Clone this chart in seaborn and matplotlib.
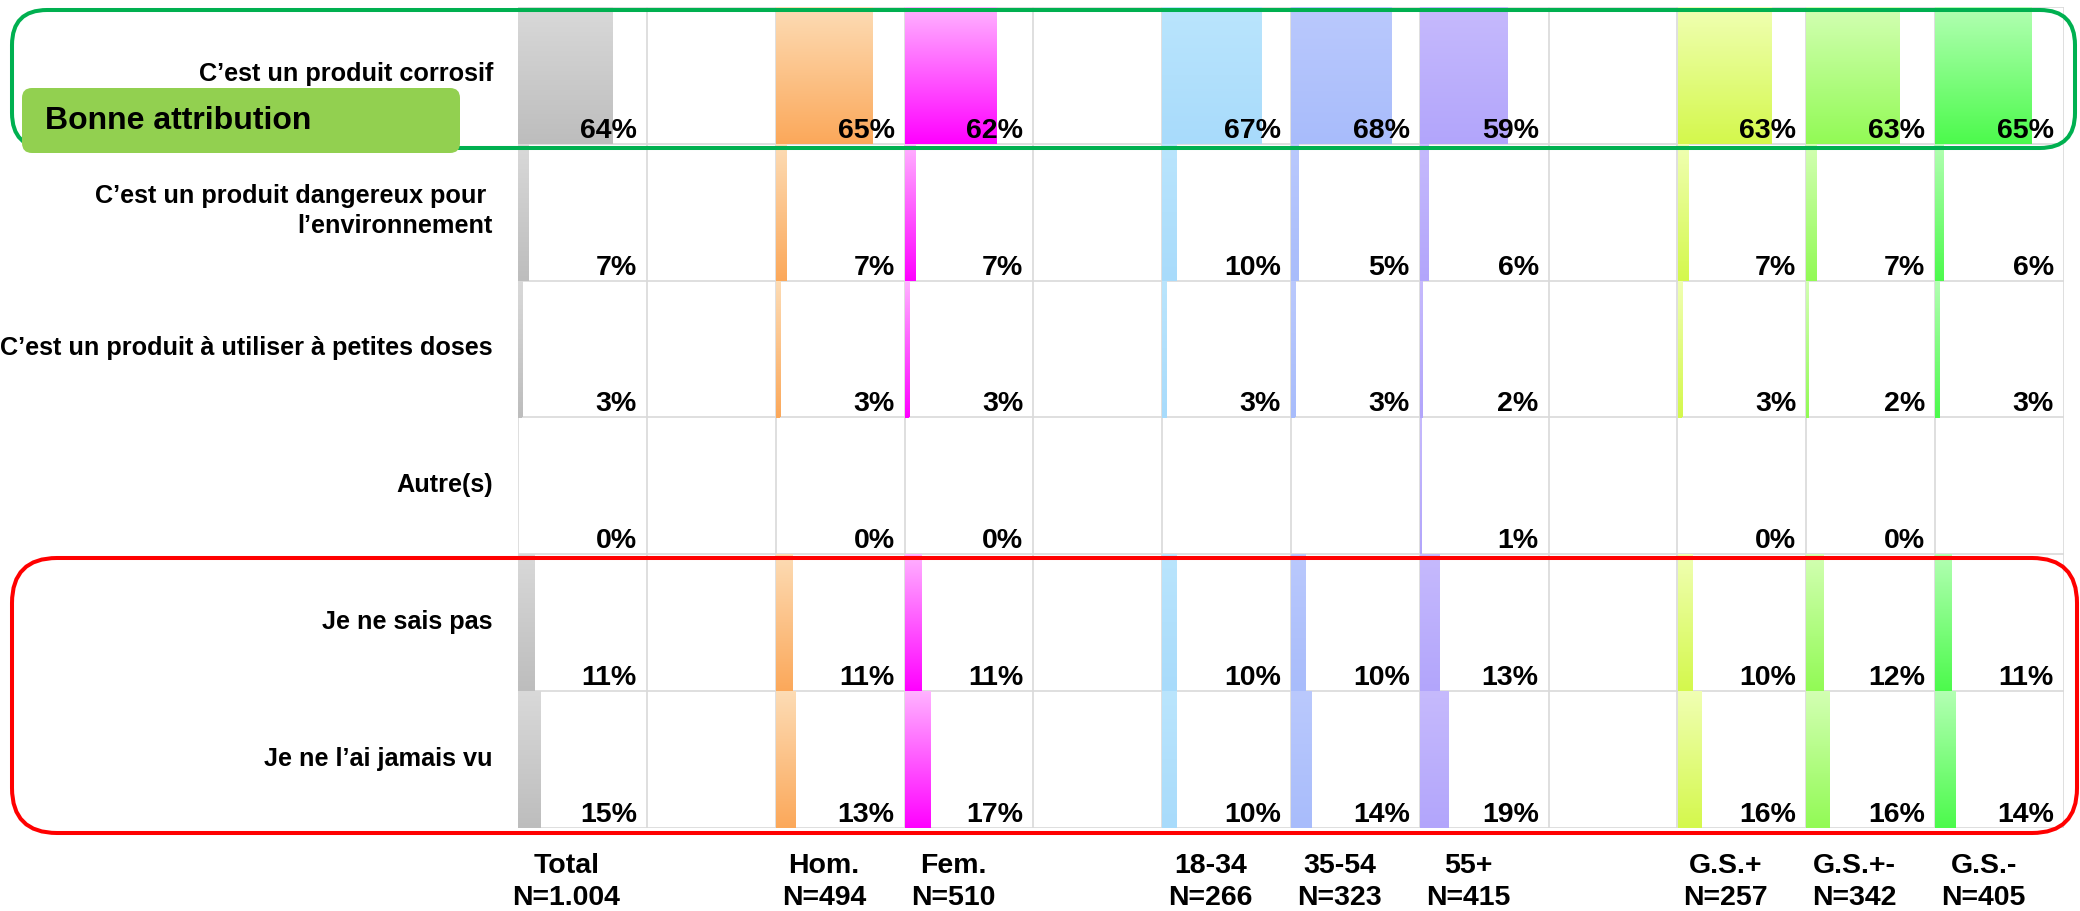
import numpy as np
import pandas as pd
import seaborn as sns
import matplotlib.pyplot as plt
from matplotlib.colors import LinearSegmentedColormap
from matplotlib.patches import FancyBboxPatch

sns.set_style("white")
plt.rcParams['font.family'] = ['Liberation Sans', 'DejaVu Sans']
plt.rcParams['font.weight'] = 'bold'
plt.rcParams['text.color'] = 'black'

# ---- data ----
rows = ["C\u2019est un produit corrosif",
        "C\u2019est un produit dangereux pour \nl\u2019environnement",
        "C\u2019est un produit \u00e0 utiliser \u00e0 petites doses",
        "Autre(s)",
        "Je ne sais pas",
        "Je ne l\u2019ai jamais vu"]

groups = ["Total", "Hom.", "Fem.", "18-34", "35-54", "55+", "G.S.+", "G.S.+-", "G.S.-"]
sizes = ["N=1.004", "N=494", "N=510", "N=266", "N=323", "N=415", "N=257", "N=342", "N=405"]

nan = np.nan
total = [64, 7, 3, 0, 11, 15]
hom = [65, 7, 3, 0, 11, 13]
fem = [62, 7, 3, 0, 11, 17]
age_18_34 = [67, 10, 3, nan, 10, 10]
age_35_54 = [68, 5, 3, nan, 10, 14]
age_55 = [59, 6, 2, 1, 13, 19]
gs_plus = [63, 7, 3, 0, 10, 16]
gs_mid = [63, 7, 2, 0, 12, 16]
gs_minus = [65, 6, 3, nan, 11, 14]
series = [total, hom, fem, age_18_34, age_35_54, age_55, gs_plus, gs_mid, gs_minus]

top_colors = ["#d9d9d9", "#fddcb5", "#ffb3ff", "#bae5fd", "#bac9fd", "#c6bafd",
              "#f0ffb3", "#d3ffb3", "#b3ffb3"]
bottom_colors = ["#bdbdbd", "#fba85a", "#ff00ff", "#a8dbfb", "#a8bcfb", "#b2a5fb",
                 "#d4f84c", "#92fa55", "#4cfa4c"]

# ---- layout (pixels) ----
W, H = 2080, 911
gx0, gx1 = 518, 2064
gy0, gy1 = 7, 828
ncols = 12
colw = (gx1 - gx0) / ncols
rowh = (gy1 - gy0) / len(rows)
group_cols = [0, 2, 3, 5, 6, 7, 9, 10, 11]
XMAX = 87  # value that fills a whole cell

fig = plt.figure(figsize=(W / 100, H / 100), dpi=100)

bg = fig.add_axes([gx0 / W, (H - gy1) / H, (gx1 - gx0) / W, (gy1 - gy0) / H])
bg.set_xlim(0, ncols)
bg.set_ylim(len(rows), 0)
bg.axis('off')
for c in range(ncols + 1):
    bg.axvline(c, color='#d9d9d9', lw=1.2, zorder=0)
for r in range(len(rows) + 1):
    bg.axhline(r, color='#d9d9d9', lw=1.2, zorder=0)

for i, lab in enumerate(rows):
    bg.text(-25 / colw, i + 0.5 - 1 / rowh, lab, ha='right', va='center',
            multialignment='right', linespacing=1.3, fontsize=18.2, fontweight='bold')

for g, (name, n, col) in enumerate(zip(groups, sizes, group_cols)):
    xc = col + 0.5 - 16 / colw
    bg.text(xc, (873 - gy0) / rowh, name, ha='center', va='baseline', fontsize=20.5, fontweight='bold')
    bg.text(xc, (905 - gy0) / rowh, n, ha='center', va='baseline', fontsize=20.5, fontweight='bold')

for g, col in enumerate(group_cols):
    ax = fig.add_axes([(gx0 + col * colw) / W, (H - gy1) / H, colw / W, (gy1 - gy0) / H])
    ax.set_facecolor('none')
    df = pd.DataFrame({'row': rows, 'value': series[g]}).dropna()
    sns.barplot(data=df, x='value', y='row', order=rows, orient='h', ax=ax,
                color=bottom_colors[g], saturation=1, width=1.0, linewidth=0)
    cmap = LinearSegmentedColormap.from_list(f"g{g}", [top_colors[g], bottom_colors[g]])
    grad = np.linspace(0, 1, 256).reshape(-1, 1)
    for p in ax.patches:
        x0, y0, w, h = p.get_x(), p.get_y(), p.get_width(), p.get_height()
        if not w > 0:
            continue
        im = ax.imshow(grad, extent=[x0, x0 + w, y0 + h, y0], origin='upper',
                       aspect='auto', cmap=cmap, zorder=2)
        im.set_clip_path(p)
    for i, v in enumerate(series[g]):
        if np.isnan(v):
            continue
        ax.text(XMAX * (1 - 10 / colw), i + 0.5 - 6 / rowh, f"{v:.0f}%", ha='right',
                va='baseline', fontsize=20.5, fontweight='bold', zorder=3)
    ax.set_xlim(0, XMAX)
    ax.set_ylim(len(rows) - 0.5, -0.5)
    ax.axis('off')

ov = fig.add_axes([0, 0, 1, 1], zorder=10)
ov.set_xlim(0, W)
ov.set_ylim(H, 0)
ov.axis('off')
ov.set_facecolor('none')
ov.add_patch(FancyBboxPatch((12, 10), 2063, 138, boxstyle="round,pad=0,rounding_size=35",
                            fill=False, edgecolor='#00b050', lw=2.9))
ov.add_patch(FancyBboxPatch((12, 558), 2065, 275, boxstyle="round,pad=0,rounding_size=45",
                            fill=False, edgecolor='#ff0000', lw=2.9))
ov.add_patch(FancyBboxPatch((22, 88), 438, 65, boxstyle="round,pad=0,rounding_size=10",
                            facecolor='#92d050', edgecolor='none'))
ov.text(45, 121, "Bonne attribution", ha='left', va='center', fontsize=23, fontweight='bold')

fig.savefig("out.png", dpi=100)
